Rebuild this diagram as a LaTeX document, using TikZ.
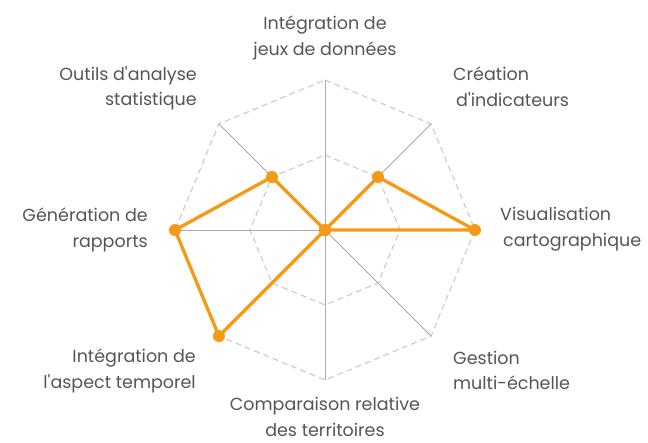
\documentclass[tikz,border=0pt]{standalone}
\usepackage{fontspec}
\setmainfont{Poppins}
\usetikzlibrary{positioning}
\definecolor{chartorange}{RGB}{245,154,22}
\definecolor{gridgray}{RGB}{205,205,205}
\definecolor{axisgray}{RGB}{170,170,170}
\definecolor{labelgray}{RGB}{85,85,85}
\tikzstyle{vertex}=[circle,fill=chartorange,minimum size=12pt,inner sep=0pt]
\tikzstyle{lbl}=[text=labelgray,font=\fontsize{17.5}{25.5}\selectfont,inner sep=0pt]

\begin{document}
\begin{tikzpicture}[x=1pt,y=1pt]
\useasboundingbox (-325,-212) rectangle (323,230);

% grid rings
\draw[gridgray,line width=1.2pt,dash pattern=on 6pt off 4pt] (90:150) -- (45:150) -- (0:150) -- (-45:150) -- (-90:150) -- (-135:150) -- (180:150) -- (135:150) -- cycle;
\draw[gridgray,line width=1.2pt,dash pattern=on 6pt off 4pt] (90:75) -- (45:75) -- (0:75) -- (-45:75) -- (-90:75) -- (-135:75) -- (180:75) -- (135:75) -- cycle;
\foreach \x in {90,45,0,-45,-90,-135,180,135}{
\draw[axisgray,line width=0.8pt] (0,0) -- (\x:150);
}

% data
\coordinate (d1) at (90:0);
\coordinate (d2) at (45:75);
\coordinate (d3) at (0:150);
\coordinate (d4) at (-45:0);
\coordinate (d5) at (-90:0);
\coordinate (d6) at (-135:150);
\coordinate (d7) at (180:150);
\coordinate (d8) at (135:75);
\draw[chartorange,line width=3.3pt,line join=round] (d1) -- (d2) -- (d3) -- (d4) -- (d5) -- (d6) -- (d7) -- (d8) -- cycle;
\foreach \p in {d1,d2,d3,d4,d5,d6,d7,d8}{
    \node[vertex] at (\p) {};
}

% labels
\node[lbl,align=center] (l1) at (0,192) {Intégration de\\jeux de données};
\node[lbl,align=left,anchor=west] (l2) at (128,143.5) {Création\\\hspace{3pt}d\textquotesingle indicateurs};
\node[lbl,align=left,anchor=west] (l3) at (175,1) {Visualisation\\\hspace{3pt}cartographique};
\node[lbl,align=left,anchor=west] (l4) at (128,-140.5) {Gestion\\multi-échelle};
\node[lbl,align=center] (l5) at (0,-187) {Comparaison relative\\des territoires};
\node[lbl,align=right,anchor=east] (l6) at (-129,-141) {Intégration de\\l\textquotesingle aspect temporel};
\node[lbl,align=right,anchor=east] (l7) at (-177,0) {Génération de\\rapports};
\node[lbl,align=right,anchor=east] (l8) at (-128,141.5) {Outils d\textquotesingle analyse\\statistique};
\end{tikzpicture}
\end{document}
